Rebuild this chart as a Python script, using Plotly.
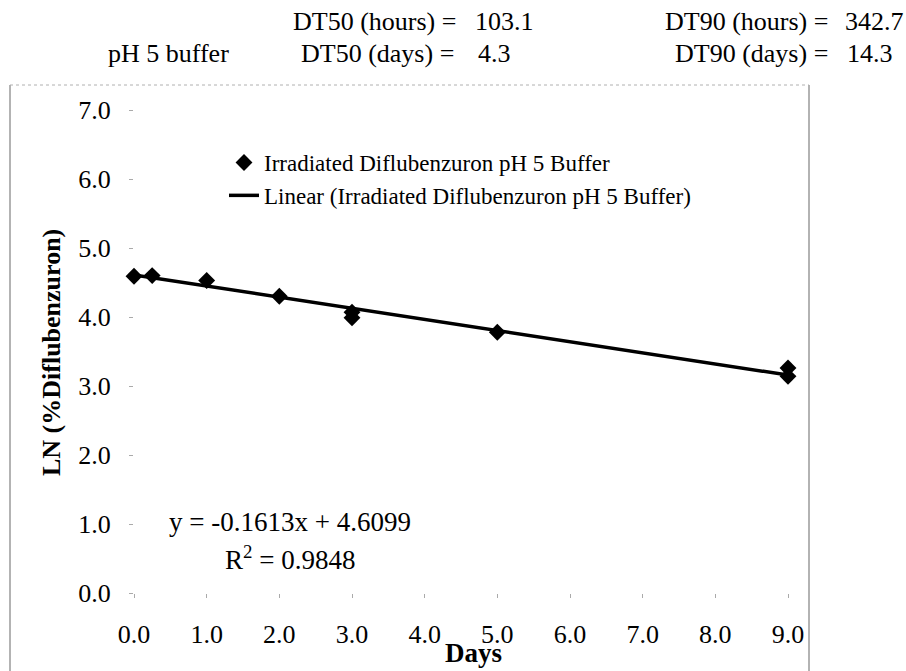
import plotly.graph_objects as go

# ---- data ----
days = [0, 0.25, 1, 2, 3, 3, 5, 9, 9]
ln_pct = [4.59, 4.60, 4.53, 4.30, 4.07, 3.99, 3.78, 3.26, 3.14]

slope = -0.1613
intercept = 4.6099
r_squared = 0.9848
trend_days = [0, 9]
trend_vals = [slope * d + intercept for d in trend_days]

dt50_hours = 103.1
dt50_days = 4.3
dt90_hours = 342.7
dt90_days = 14.3

x_ticks = [0, 1, 2, 3, 4, 5, 6, 7, 8, 9]
y_ticks = [0, 1, 2, 3, 4, 5, 6, 7]

series_name = "Irradiated Diflubenzuron pH 5 Buffer"
trend_name = "Linear (Irradiated Diflubenzuron pH 5 Buffer)"

# ---- layout geometry (pixels) ----
FW, FH = 906, 671
L, R, T, B = 134, 118, 110, 78
W = FW - L - R
H = FH - T - B
Y0 = FH - B  # pixel row of y = 0


def px_x(p):
    return (p - L) / W


def px_y(p):
    return (Y0 - p) / H


FONT = "Liberation Serif"

fig = go.Figure()
fig.add_trace(go.Scatter(
    x=days, y=ln_pct, mode="markers", name=series_name,
    marker=dict(symbol="diamond", size=13, color="black"),
    cliponaxis=False,
))
fig.add_trace(go.Scatter(
    x=trend_days, y=trend_vals, mode="lines", name=trend_name,
    line=dict(color="black", width=3.5),
    cliponaxis=False,
))

annotations = []


def txt(text, x, y, xanchor="left", size=26, bold=False, angle=0):
    annotations.append(dict(
        text=f"<b>{text}</b>" if bold else text,
        x=px_x(x), y=px_y(y), xref="paper", yref="paper",
        xanchor=xanchor, yanchor="middle", showarrow=False,
        textangle=angle, font=dict(family=FONT, size=size, color="black"),
    ))


# header block
txt("DT50 (hours) =", 458, 22, "right", 26)
txt(f"{dt50_hours}", 473, 22, "left", 26)
txt("pH 5 buffer", 106, 53, "left", 26)
txt("DT50 (days) =", 456, 53, "right", 26)
txt(f"{dt50_days}", 476, 53, "left", 26)
txt("DT90 (hours) =", 830, 22, "right", 26)
txt(f"{dt90_hours}", 843, 22, "left", 26)
txt("DT90 (days) =", 830, 53, "right", 26)
txt(f"{dt90_days}", 845, 53, "left", 26)

# trendline equation
txt(f"y = {slope}x + {intercept}", 167, 522, "left", 27)
txt(f"R<sup>2</sup> = {r_squared}", 223, 558, "left", 27)

# axis titles
txt("LN (%Diflubenzuron)", 51, 353, "center", size=26, bold=True, angle=-90)
txt("Days", 474, 653, "center", size=27, bold=True)

shapes = [
    dict(type="line", xref="paper", yref="paper",
         x0=px_x(10), x1=px_x(10), y0=px_y(85), y1=px_y(FH + 5),
         line=dict(color="#9a9a9a", width=1.5)),
    dict(type="line", xref="paper", yref="paper",
         x0=px_x(809), x1=px_x(809), y0=px_y(85), y1=px_y(FH + 5),
         line=dict(color="#9a9a9a", width=1.5)),
    dict(type="line", xref="paper", yref="paper",
         x0=px_x(10), x1=px_x(809), y0=px_y(85), y1=px_y(85),
         line=dict(color="#b0b0b0", width=1, dash="dot")),
]

fig.update_layout(
    width=FW, height=FH,
    margin=dict(l=L, r=R, t=T, b=B, pad=0),
    paper_bgcolor="white", plot_bgcolor="white",
    font=dict(family=FONT, size=26, color="black"),
    showlegend=True,
    legend=dict(
        x=px_x(224), y=px_y(141), xanchor="left", yanchor="top",
        bgcolor="rgba(0,0,0,0)", font=dict(family=FONT, size=23, color="black"),
        itemwidth=30, tracegroupgap=0,
    ),
    annotations=annotations,
    shapes=shapes,
    xaxis=dict(
        range=[0, 9], tickvals=x_ticks, ticktext=[f"{v:.1f}" for v in x_ticks],
        showgrid=False, zeroline=False, showline=False,
        ticks="outside", ticklen=4, tickcolor="#aaaaaa", tickwidth=1,
        ticklabelstandoff=14,
        tickfont=dict(family=FONT, size=26, color="black"),
    ),
    yaxis=dict(
        range=[0, 7], tickvals=y_ticks, ticktext=[f"{v:.1f}" for v in y_ticks],
        showgrid=False, zeroline=False, showline=False,
        ticks="outside", ticklen=4, tickcolor="#aaaaaa", tickwidth=1,
        ticklabelstandoff=13,
        tickfont=dict(family=FONT, size=26, color="black"),
    ),
)

fig.write_html("out.html")
